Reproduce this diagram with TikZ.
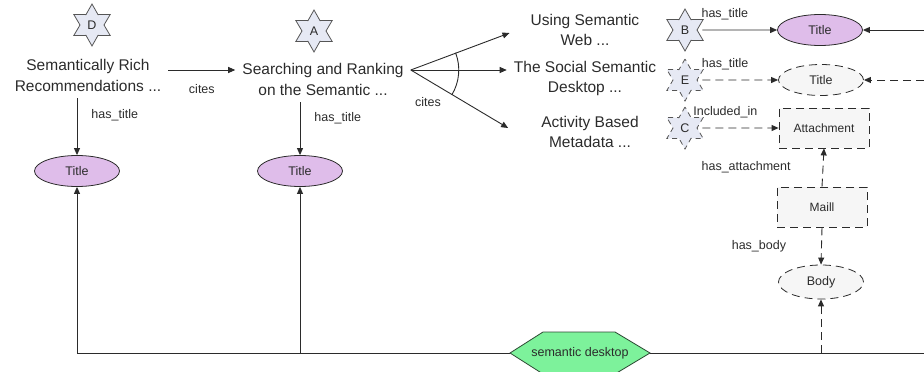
\documentclass[tikz,border=0pt]{standalone}
\usepackage{fontspec}
\setmainfont{Liberation Sans}
\usetikzlibrary{shapes.geometric,arrows.meta}
\definecolor{InkGray}{HTML}{2B2B2B}
\definecolor{TitleLilac}{HTML}{DFBDEA}
\definecolor{StarBlue}{HTML}{E6E9F4}
\definecolor{PaleGray}{HTML}{F6F6F6}
\definecolor{DeskGreen}{HTML}{7DF29B}
\definecolor{DeskEdge}{HTML}{2E4A34}

\begin{document}
\begin{tikzpicture}[x=1pt, y=-1pt, >={Triangle[length=7pt,width=6pt]},
		paper/.style={align=center, inner sep=7pt, text=InkGray, font=\fontsize{15.5}{21}\selectfont},
		lbl/.style={inner sep=2pt, text=InkGray, font=\fontsize{12.5}{14}\selectfont},
		starnode/.style={star, star points=6, star point ratio=1.75, minimum size=42pt, inner sep=0pt,
			draw=InkGray!80, fill=StarBlue, line width=0.8pt, text=InkGray, font=\fontsize{12.5}{12}\selectfont},
		titleok/.style={ellipse, minimum width=85pt, minimum height=31pt, inner sep=0pt,
			draw=InkGray, fill=TitleLilac, line width=0.8pt, text=InkGray, font=\fontsize{12.5}{14}\selectfont},
		dashlink/.style={dash pattern=on 8pt off 5pt},
		stardash/.style={dash pattern=on 5pt off 4pt},
		titledash/.style={titleok, dashlink, fill=PaleGray},
		boxdash/.style={rectangle, minimum width=90pt, minimum height=40pt, inner sep=0pt,
			draw=InkGray, fill=PaleGray, dashlink, line width=0.8pt, text=InkGray, font=\fontsize{12}{14}\selectfont},
		link/.style={->, draw=InkGray, line width=0.9pt}]
	\useasboundingbox (0,0) rectangle (924,372);

	% papers and their ids
	\node[starnode] (D) at (92,25) {D};
	\node[paper] (pD) at (88,75) {Semantically Rich\\Recommendations ...};
	\node[starnode] (A) at (314,31) {A};
	\node[paper] (pA) at (323,79) {Searching and Ranking\\on the Semantic ...};
	\node[paper, font=\fontsize{15.5}{20}\selectfont] (pU) at (585,30) {Using Semantic\\Web ...};
	\node[paper, font=\fontsize{15.5}{20}\selectfont] (pS) at (585,78) {The Social Semantic\\Desktop ...};
	\node[paper, font=\fontsize{15.5}{20}\selectfont] (pM) at (590,132) {Activity Based\\Metadata ...};

	% titles on the left
	\node[titleok] (t1) at (77,171) {Title};
	\node[titleok] (t2) at (300,171) {Title};
	\draw[link] (t1 |- pD.south) -- (t1.north)
		node[lbl, pos=0.3, right=12pt] {has\_title};
	\draw[link] (t2 |- pA.south) -- (t2.north)
		node[lbl, pos=0.3, right=12pt] {has\_title};

	% citations
	\draw[link] ([yshift=5pt]pD.east) -- ([yshift=5pt]pD.east -| pA.west)
		node[lbl, midway, below=12pt] {cites};
	\coordinate (fo) at ([yshift=9pt]pA.east);
	\draw[link] (fo) -- ([xshift=-14pt,yshift=-3pt]pU.west);
	\draw[link] (fo) -- (fo -| pS.west);
	\draw[link] (fo) -- ([xshift=-26pt,yshift=4pt]pM.west);
	\draw[InkGray, line width=0.9pt] ([shift={(21:48pt)}]fo) arc[start angle=21, end angle=-31, radius=48pt];
	\node[lbl] (c2) at (428,102) {cites};

	% right column
	\node[starnode] (B) at (685,30) {B};
	\node[starnode, stardash] (E) at (685,80) {E};
	\node[starnode, stardash] (C) at (685,128) {C};
	\node[titleok] (t3) at (820,30) {Title};
	\node[titledash] (t4) at (821,80) {Title};
	\node[boxdash] (att) at (824,128) {Attachment};
	\node[boxdash] (mail) at (822,207) {Maill};
	\node[titledash, minimum height=34pt] (body) at (821,282) {Body};

	\draw[link] ([xshift=5pt]B.east) -- (t3.west)
		node[lbl, pos=0.3, above=8pt] {has\_title};
	\draw[link, dashlink] ([xshift=5pt]E.east) -- (t4.west)
		node[lbl, pos=0.3, above=8pt] {has\_title};
	\draw[link, dashlink] ([xshift=5pt]C.east) -- (att.west)
		node[lbl, pos=0.3, above=8pt] {Included\_in};
	\draw[link, dashlink] (mail.north) -- (att.south)
		node[lbl, midway, left=30pt] {has\_attachment};
	\draw[link, dashlink] (mail.south) -- (body.north)
		node[lbl, midway, left=33pt] {has\_body};

	\coordinate (r1) at (924,30);
	\coordinate (r2) at (924,80);
	\draw[link] (r1) -- (t3.east);
	\draw[link, dashlink] (r2) -- (t4.east);

	% semantic desktop
	\coordinate (sdc) at (580,353);
	\filldraw[fill=DeskGreen, draw=DeskEdge, line width=0.8pt]
		([xshift=-70pt]sdc) -- ([xshift=-37pt,yshift=21pt]sdc) -- ([xshift=35pt,yshift=21pt]sdc)
		-- ([xshift=70pt]sdc) -- ([xshift=35pt,yshift=-21pt]sdc) -- ([xshift=-37pt,yshift=-21pt]sdc) -- cycle;
	\node[lbl, minimum width=140pt, minimum height=42pt, inner sep=0pt] (sd) at (sdc) {semantic desktop};
	\coordinate (r3) at (924,353);
	\draw[InkGray, line width=0.9pt] (t1 |- sd) -- (sd.west);
	\draw[InkGray, line width=0.9pt] (sd.east) -- (r3);
	\draw[link] (t1 |- sd) -- (t1.south);
	\draw[link] (t2 |- sd) -- (t2.south);
	\draw[link, dashlink] (body |- sd) -- (body.south);
\end{tikzpicture}
\end{document}
